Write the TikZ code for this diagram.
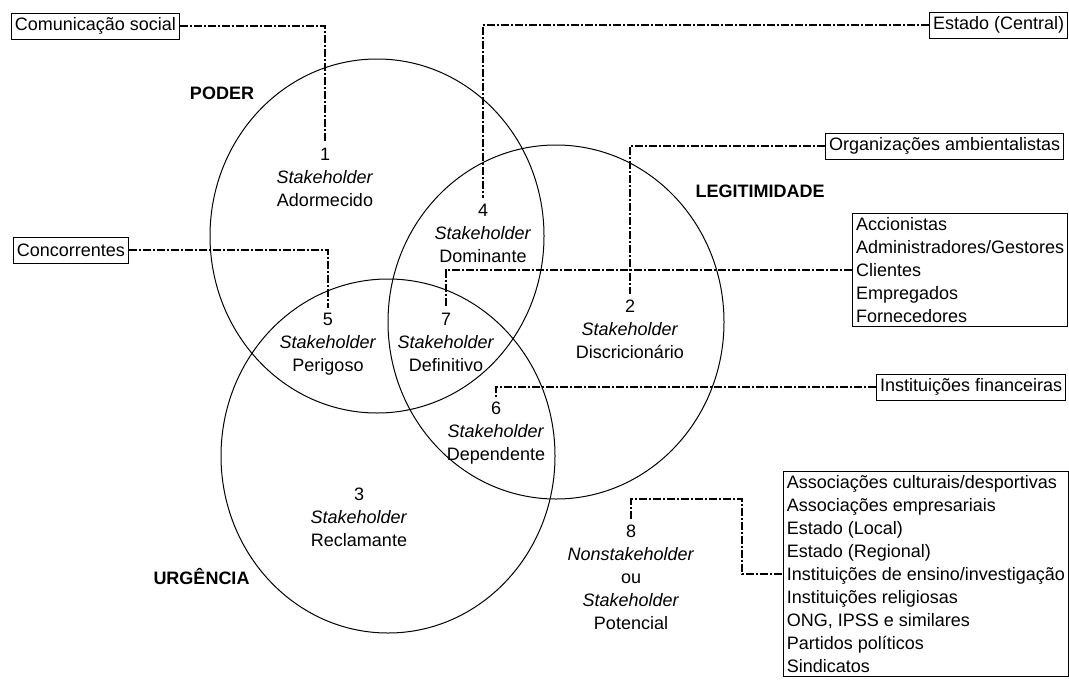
\documentclass[tikz,border=0pt]{standalone}
\usepackage{fontspec}
\setmainfont{Liberation Sans}

\tikzset{every picture/.style={line width=0.75pt}}
\tikzset{
  tag/.style={draw, inner xsep=2.5pt, inner ysep=1pt, minimum height=19.5pt},
  taglist/.style={draw, align=left, inner xsep=2.5pt, inner ysep=3pt},
  zone/.style={align=center, inner sep=2pt, outer sep=2pt},
  title/.style={font=\fontsize{13.5}{17.2}\selectfont\bfseries, inner sep=0pt},
  link/.style={line width=1.8pt, dash pattern=on 6pt off 1.5pt on 1.5pt off 1.5pt},
}

\begin{document}
\begin{tikzpicture}[x=0.75pt,y=0.75pt,yscale=-1,xscale=1,
  every node/.style={font=\fontsize{13.5}{17.2}\selectfont}]
\useasboundingbox (0,0) rectangle (1069,682);

%Circles
\draw (377,236) ellipse [x radius=167, y radius=177];
\draw (556,322) ellipse [x radius=168, y radius=177];
\draw (388,456) ellipse [x radius=167, y radius=177];

% Text Node
\draw (222,93) node [title] (poder) {PODER};
% Text Node
\draw (695,191) node [anchor=west][title] (legit) {LEGITIMIDADE};
% Text Node
\draw (153,577) node [anchor=west][title] (urg) {URGÊNCIA};

% Text Node
\draw (325,177) node [zone] (s1) {1\\\textit{Stakeholder}\\Adormecido};
% Text Node
\draw (630,329) node [zone] (s2) {2\\\textit{Stakeholder}\\Discricionário};
% Text Node
\draw (359,517) node [zone] (s3) {3\\\textit{Stakeholder}\\Reclamante};
% Text Node
\draw (483,233) node [zone] (s4) {4\\\textit{Stakeholder}\\Dominante};
% Text Node
\draw (328,344) node [zone] (s5) {5\\\textit{Stakeholder}\\Perigoso};
% Text Node
\draw (496,433) node [zone] (s6) {6\\\textit{Stakeholder}\\Dependente};
% Text Node
\draw (446,342) node [zone] (s7) {7\\\textit{Stakeholder}\\Definitivo};
% Text Node
\draw (631,577) node [zone] (s8) {8\\\textit{Nonstakeholder}\\ou\\\textit{Stakeholder}\\Potencial};

% Boxes
\draw (11,26) node [anchor=west][tag] (comm) {Comunicação social};
\draw (1068,25) node [anchor=east][tag] (central) {Estado (Central)};
\draw (1064,146) node [anchor=east][tag] (org) {Organizações ambientalistas};
\draw (1068,213) node [anchor=north east][taglist] (acc) {Accionistas\\Administradores/Gestores\\Clientes\\Empregados\\Fornecedores};
\draw (13,250) node [anchor=west][tag] (conc) {Concorrentes};
\draw (1066,387) node [anchor=east][tag] (fin) {Instituições financeiras};
\draw (783,471) node [anchor=north west][taglist] (ens) {Associações culturais/desportivas\\Associações empresariais\\Estado (Local)\\Estado (Regional)\\Instituições de ensino/investigação\\Instituições religiosas\\ONG, IPSS e similares\\Partidos políticos\\Sindicatos};

% Links
\draw [link] (comm.east) -| (s1.north);
\draw [link] (central.west) -| (s4.north);
\draw [link] (org.west) -| (s2.north);
\draw [link] (acc.west) -| (s7.north);
\draw [link] (conc.east) -| (s5.north);
\draw [link] (fin.west) -| (s6.north);
\coordinate (k8) at (742,499);
\draw [link] (s8.north) |- (k8) |- (ens.west);

\end{tikzpicture}
\end{document}
